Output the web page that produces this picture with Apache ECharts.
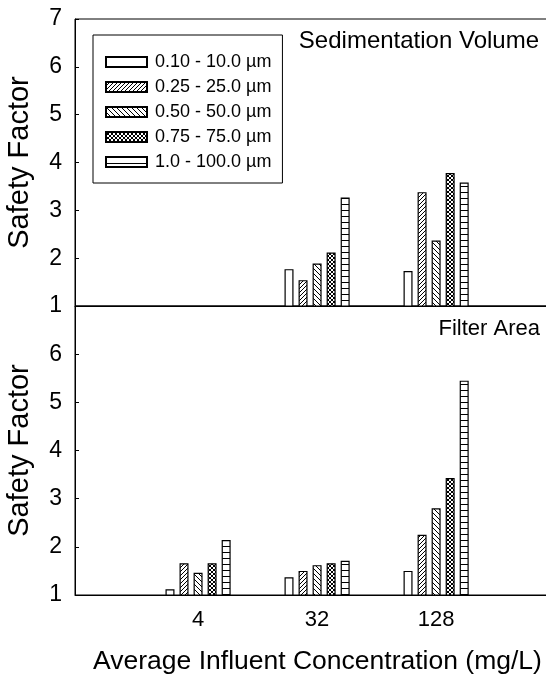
<!DOCTYPE html>
<html>
<head>
<meta charset="utf-8">
<script src="https://cdn.jsdelivr.net/npm/echarts@6/dist/echarts.min.js"></script>
<style>
  html, body { margin: 0; padding: 0; background: #fff; }
  #chart { width: 546px; height: 674px; }
</style>
</head>
<body>
<div id="chart"></div>
<script>
// categories on the x axis (average influent concentration, mg/L)
const concentrations = ["4", "32", "128"];
const sizeRanges = ["0.10 - 10.0 µm", "0.25 - 25.0 µm", "0.50 - 50.0 µm", "0.75 - 75.0 µm", "1.0 - 100.0 µm"];

// Sedimentation volume safety factors (no bars at 4 mg/L)
const sed010 = [null, 1.77, 1.73];
const sed025 = [null, 1.54, 3.38];
const sed050 = [null, 1.89, 2.37];
const sed075 = [null, 2.12, 3.78];
const sed100 = [null, 3.27, 3.58];

// Filter area safety factors
const fil010 = [1.12, 1.37, 1.50];
const fil025 = [1.66, 1.50, 2.25];
const fil050 = [1.46, 1.62, 2.80];
const fil075 = [1.66, 1.66, 3.43];
const fil100 = [2.14, 1.71, 5.45];

const yTicks = [1, 2, 3, 4, 5, 6, 7];

const FONT = "Liberation Sans, Arial, sans-serif";

// small canvas tiles used as bar fill patterns
function tile(kind) {
  const c = document.createElement("canvas");
  const s = kind === "back" ? 5 : 4;
  c.width = s;
  c.height = kind === "horiz" ? 6 : s;
  const g = c.getContext("2d");
  g.fillStyle = "#fff";
  g.fillRect(0, 0, c.width, c.height);
  g.fillStyle = "#000";
  if (kind === "fwd") {
    for (let i = 0; i < s; i++) g.fillRect(i, s - 1 - i, 1, 1);
  } else if (kind === "back") {
    for (let i = 0; i < s; i++) g.fillRect(i, i, 1, 1);
  } else if (kind === "cross") {
    for (let i = 0; i < s; i++) {
      g.fillRect(i, i, 1, 1);
      g.fillRect(i, s - 1 - i, 1, 1);
    }
  } else if (kind === "horiz") {
    g.fillRect(0, 0, c.width, 1);
  }
  return c;
}

const fills = [
  "#fff",
  { image: tile("fwd"), repeat: "repeat" },
  { image: tile("back"), repeat: "repeat" },
  { image: tile("cross"), repeat: "repeat" },
  { image: tile("horiz"), repeat: "repeat" }
];

const sedSeries = [sed010, sed025, sed050, sed075, sed100];
const filSeries = [fil010, fil025, fil050, fil075, fil100];

function toPoints(arr) {
  return arr.map((v, i) => [i + 1, v == null ? "-" : v]);
}

const series = [];
[sedSeries, filSeries].forEach((group, gi) => {
  group.forEach((arr, si) => {
    series.push({
      name: sizeRanges[si],
      type: "bar",
      xAxisIndex: gi,
      yAxisIndex: gi,
      data: toPoints(arr),
      barWidth: 9,
      barGap: "56%",
      itemStyle: { color: fills[si], borderColor: "#000", borderWidth: 1.2 },
      emphasis: { disabled: true }
    });
  });
});

const xMin = -0.034;
const xMax = 3.94;

const yAxisBase = {
  type: "value",
  min: yTicks[0],
  max: yTicks[yTicks.length - 1],
  interval: 1,
  name: "Safety Factor",
  nameLocation: "middle",
  nameGap: 41,
  nameTextStyle: { fontSize: 29, color: "#000", fontFamily: FONT },
  axisLine: { show: true, onZero: false, lineStyle: { color: "#000", width: 1 } },
  axisTick: { show: true, inside: true, length: 4, lineStyle: { color: "#000" } },
  axisLabel: { fontSize: 23, color: "#000", fontFamily: FONT, margin: 13 },
  splitLine: { show: false }
};

const chart = echarts.init(document.getElementById("chart"));

chart.setOption({
  backgroundColor: "#fff",
  animation: false,
  title: [
    {
      text: "Sedimentation Volume",
      right: 7, top: 29, padding: 0,
      textStyle: { fontSize: 24, fontWeight: "normal", color: "#000", fontFamily: FONT }
    },
    {
      text: "Filter Area",
      right: 6, top: 318, padding: 0,
      textStyle: { fontSize: 22, fontWeight: "normal", color: "#000", fontFamily: FONT }
    }
  ],
  legend: {
    data: sizeRanges,
    orient: "vertical",
    left: 93,
    top: 35,
    padding: [18, 11, 12, 12],
    itemGap: 7,
    itemWidth: 41,
    itemHeight: 10,
    icon: "rect",
    borderColor: "#000",
    borderWidth: 1,
    backgroundColor: "#fff",
    selectedMode: false,
    textStyle: { fontSize: 18, color: "#000", fontFamily: FONT, lineHeight: 18, padding: [0, 0, 0, 3] }
  },
  grid: [
    { left: 75, right: -2, top: 19, height: 287, outerBoundsMode: "none", show: true, borderColor: "#000", borderWidth: 1 },
    { left: 75, right: -2, top: 306, height: 289, outerBoundsMode: "none", show: true, borderColor: "#000", borderWidth: 1 }
  ],
  xAxis: [
    {
      type: "value", gridIndex: 0, min: xMin, max: xMax,
      axisLine: { show: true, onZero: false, lineStyle: { color: "#000" } },
      axisTick: { show: false }, axisLabel: { show: false }, splitLine: { show: false }
    },
    {
      type: "value", gridIndex: 1, min: xMin, max: xMax,
      name: "Average Influent Concentration (mg/L)",
      nameLocation: "middle",
      nameGap: 53,
      nameTextStyle: { fontSize: 26.5, color: "#000", fontFamily: FONT, padding: [0, 0, 0, 12] },
      axisLine: { show: true, onZero: false, lineStyle: { color: "#000" } },
      axisTick: { show: false },
      axisLabel: {
        customValues: concentrations.map((c, i) => i + 1),
        formatter: v => concentrations[Math.round(v) - 1] || "",
        fontSize: 22, color: "#000", fontFamily: FONT, margin: 14
      },
      splitLine: { show: false }
    }
  ],
  yAxis: [
    Object.assign({}, yAxisBase, { gridIndex: 0 }),
    Object.assign({}, yAxisBase, {
      gridIndex: 1,
      axisLabel: Object.assign({}, yAxisBase.axisLabel, {
        formatter: v => (v === yTicks[yTicks.length - 1] ? "" : String(v))
      })
    })
  ],
  series: series
});
</script>
</body>
</html>
